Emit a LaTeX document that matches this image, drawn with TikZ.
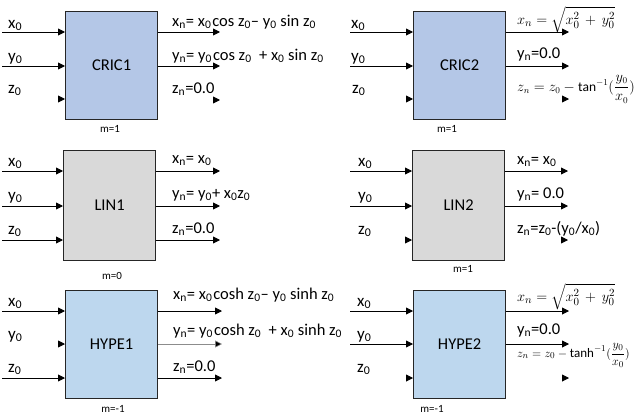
\documentclass[tikz,border=0pt]{standalone}
\usepackage{amsmath}
\usepackage{fontspec}
\setmainfont{Carlito}
\usetikzlibrary{arrows.meta,calc}
\definecolor{cricblue}{HTML}{B4C7E7}
\definecolor{lingray}{HTML}{D9D9D9}
\definecolor{hypeblue}{HTML}{BDD7EE}
\tikzset{
  blk/.style={draw=black!85, line width=1.2pt, minimum width=92pt, minimum height=108pt,
    inner sep=0pt, font=\fontsize{16.5}{20}\selectfont, anchor=north west},
  conn/.style={line width=0.9pt, -{Triangle[length=7pt,width=7pt]}},
  thinconn/.style={conn, draw=black!45, line width=0.5pt, -{Triangle[length=7pt,width=7pt,fill=black]}},
  lbl/.style={anchor=base west, inner sep=0pt, font=\fontsize{16.5}{20}\selectfont},
  inlbl/.style={anchor=base west, inner sep=0pt, font=\fontsize{17}{20}\selectfont},
  sqlbl/.style={anchor=base west, inner sep=0pt, font=\fontsize{15}{18}\selectfont},
  mathlbl/.style={anchor=base west, inner sep=0pt, font=\fontsize{13.5}{16}\selectfont},
  mathlblh/.style={anchor=base west, inner sep=0pt, font=\fontsize{13}{16}\selectfont},
  mlbl/.style={anchor=center, inner sep=0pt, font=\fontsize{11}{13}\selectfont},
}
\begin{document}
\begin{tikzpicture}[x=1pt,y=-1pt]
\useasboundingbox (0,0) rectangle (640,418);

% ---------------- Blocks ----------------
\node[blk, fill=cricblue] (b1) at (65,11) {CRIC1};
\node[blk, fill=cricblue] (b2) at (413,11) {CRIC2};
\node[blk, fill=lingray, minimum height=110pt] (b3) at (63,150) {LIN1};
\node[blk, fill=lingray, minimum height=110pt] (b4) at (412,150) {LIN2};
\node[blk, fill=hypeblue] (b5) at (65,290) {HYPE1};
\node[blk, fill=hypeblue] (b6) at (413,290) {HYPE2};

% ---------- CRIC1 ----------
\coordinate (b1xi) at (2,32);
\coordinate (b1yi) at (2,66);
\coordinate (b1zi) at (58,99);
\coordinate (b1xo) at (220,32);
\coordinate (b1yo) at (220,66);
\coordinate (b1zo) at (220,100);
\draw[conn] (b1xi) -- (b1xi -| b1.west);
\draw[conn] (b1yi) -- (b1yi -| b1.west);
\draw[conn] (b1zi) -- (b1zi -| b1.west);
\draw[conn] (b1xo -| b1.east) -- (b1xo);
\draw[conn] (b1yo -| b1.east) -- (b1yo);
\draw[conn] ($(b1zo)+(-7,0)$) -- (b1zo);
\node[inlbl] (l1a) at (8,28) {x\textsubscript{0}};
\node[inlbl] (l1b) at (8,61) {y\textsubscript{0}};
\node[inlbl] (l1c) at (8,93) {z\textsubscript{0}};
\node[lbl] (o1a) at (172,26) {x\textsubscript{n}= x\textsubscript{0}\kern1pt cos z\textsubscript{0}– y\textsubscript{0} sin z\textsubscript{0}};
\node[lbl] (o1b) at (172,60) {y\textsubscript{n}= y\textsubscript{0}\kern1pt cos z\textsubscript{0}\ \ + x\textsubscript{0} sin z\textsubscript{0}};
\node[lbl] (o1c) at (172,93) {z\textsubscript{n}=0.0};
\node[mlbl] (m1) at (110,129) {m=1};

% ---------- CRIC2 ----------
\coordinate (b2xi) at (350,32);
\coordinate (b2yi) at (350,66);
\coordinate (b2zi) at (406,99);
\coordinate (b2xo) at (569,32);
\coordinate (b2yo) at (569,66);
\coordinate (b2zo) at (569,99);
\draw[conn] (b2xi) -- (b2xi -| b2.west);
\draw[conn] (b2yi) -- (b2yi -| b2.west);
\draw[conn] (b2zi) -- (b2zi -| b2.west);
\draw[conn] (b2xo -| b2.east) -- (b2xo);
\draw[conn] (b2yo -| b2.east) -- (b2yo);
\draw[conn] ($(b2zo)+(-7,0)$) -- (b2zo);
\node[inlbl] (l2a) at (351,28) {x\textsubscript{0}};
\node[inlbl] (l2b) at (351,61) {y\textsubscript{0}};
\node[inlbl] (l2c) at (352,93) {z\textsubscript{0}};
\node[sqlbl] (o2a) at (517,24) {$x_n=\sqrt{x_0^2\,+\,y_0^2}$};
\node[lbl] (o2b) at (517,58) {y\textsubscript{n}=0.0};
\node[mathlbl] (o2c) at (517,91) {$\displaystyle z_n=z_0-\tan^{-1}(\frac{y_0}{x_0})$};
\node[mlbl] (m2) at (447,129) {m=1};

% ---------- LIN1 ----------
\coordinate (b3xi) at (2,171);
\coordinate (b3yi) at (2,206);
\coordinate (b3zi) at (2,240);
\coordinate (b3xo) at (220,171);
\coordinate (b3yo) at (220,206);
\coordinate (b3zo) at (220,240);
\draw[conn] (b3xi) -- (b3xi -| b3.west);
\draw[conn] (b3yi) -- (b3yi -| b3.west);
\draw[conn] (b3zi) -- (b3zi -| b3.west);
\draw[conn] (b3xo -| b3.east) -- (b3xo);
\draw[conn] (b3yo -| b3.east) -- (b3yo);
\draw[conn] (b3zo -| b3.east) -- (b3zo);
\node[inlbl] (l3a) at (8,166) {x\textsubscript{0}};
\node[inlbl] (l3b) at (8,200) {y\textsubscript{0}};
\node[inlbl] (l3c) at (8,234) {z\textsubscript{0}};
\node[lbl] (o3a) at (172,163) {x\textsubscript{n}= x\textsubscript{0}};
\node[lbl] (o3b) at (172,198) {y\textsubscript{n}= y\textsubscript{0}+ x\textsubscript{0}z\textsubscript{0}};
\node[lbl] (o3c) at (172,233) {z\textsubscript{n}=0.0};
\node[mlbl] (m3) at (112,276) {m=0};

% ---------- LIN2 ----------
\coordinate (b4xi) at (350,171);
\coordinate (b4yi) at (350,206);
\coordinate (b4zi) at (405,240);
\coordinate (b4xo) at (568,171);
\coordinate (b4yo) at (568,206);
\coordinate (b4zo) at (568,240);
\draw[conn] (b4xi) -- (b4xi -| b4.west);
\draw[conn] (b4yi) -- (b4yi -| b4.west);
\draw[conn] (b4zi) -- (b4zi -| b4.west);
\draw[conn] (b4xo -| b4.east) -- (b4xo);
\draw[conn] (b4yo -| b4.east) -- (b4yo);
\draw[conn] ($(b4zo)+(-7,0)$) -- (b4zo);
\node[inlbl] (l4a) at (358,166) {x\textsubscript{0}};
\node[inlbl] (l4b) at (358,200) {y\textsubscript{0}};
\node[inlbl] (l4c) at (358,234) {z\textsubscript{0}};
\node[lbl] (o4a) at (517,164) {x\textsubscript{n}= x\textsubscript{0}};
\node[lbl] (o4b) at (517,198) {y\textsubscript{n}= 0.0};
\node[lbl] (o4c) at (517,233) {z\textsubscript{n}=z\textsubscript{0}-(y\textsubscript{0}/x\textsubscript{0})};
\node[mlbl] (m4) at (463,269) {m=1};

% ---------- HYPE1 ----------
\coordinate (b5xi) at (2,311);
\coordinate (b5yi) at (58,344);
\coordinate (b5zi) at (2,378);
\coordinate (b5xo) at (222,311);
\coordinate (b5yo) at (222,344);
\coordinate (b5zo) at (222,378);
\draw[conn] (b5xi) -- (b5xi -| b5.west);
\draw[conn] (b5yi) -- (b5yi -| b5.west);
\draw[conn] (b5zi) -- (b5zi -| b5.west);
\draw[conn] (b5xo -| b5.east) -- (b5xo);
\draw[thinconn] (b5yo -| b5.east) -- (b5yo);
\draw[conn] (b5zo -| b5.east) -- (b5zo);
\node[inlbl] (l5a) at (8,306) {x\textsubscript{0}};
\node[inlbl] (l5b) at (8,339) {y\textsubscript{0}};
\node[inlbl] (l5c) at (8,372) {z\textsubscript{0}};
\node[lbl] (o5a) at (173,299) {x\textsubscript{n}= x\textsubscript{0}\kern1pt cosh z\textsubscript{0}– y\textsubscript{0} sinh z\textsubscript{0}};
\node[lbl] (o5b) at (173,335) {y\textsubscript{n}= y\textsubscript{0}\kern1pt cosh z\textsubscript{0}\ \ + x\textsubscript{0} sinh z\textsubscript{0}};
\node[lbl] (o5c) at (173,371) {z\textsubscript{n}=0.0};
\node[mlbl] (m5) at (113,409) {m=-1};

% ---------- HYPE2 ----------
\coordinate (b6xi) at (350,311);
\coordinate (b6yi) at (350,344);
\coordinate (b6zi) at (406,378);
\coordinate (b6xo) at (569,311);
\coordinate (b6yo) at (569,344);
\coordinate (b6zo) at (569,378);
\draw[conn] (b6xi) -- (b6xi -| b6.west);
\draw[conn] (b6yi) -- (b6yi -| b6.west);
\draw[conn] (b6zi) -- (b6zi -| b6.west);
\draw[conn] (b6xo -| b6.east) -- (b6xo);
\draw[conn] (b6yo -| b6.east) -- (b6yo);
\draw[conn] ($(b6zo)+(-7,0)$) -- (b6zo);
\node[inlbl] (l6a) at (357,306) {x\textsubscript{0}};
\node[inlbl] (l6b) at (357,339) {y\textsubscript{0}};
\node[inlbl] (l6c) at (357,372) {z\textsubscript{0}};
\node[sqlbl] (o6a) at (517,301) {$x_n=\sqrt{x_0^2\,+\,y_0^2}$};
\node[lbl] (o6b) at (517,334) {y\textsubscript{n}=0.0};
\node[mathlblh] (o6c) at (517,357) {$\displaystyle z_n=z_0-\tanh^{-1}(\frac{y_0}{x_0})$};
\node[mlbl] (m6) at (432,409) {m=-1};
\end{tikzpicture}
\end{document}
